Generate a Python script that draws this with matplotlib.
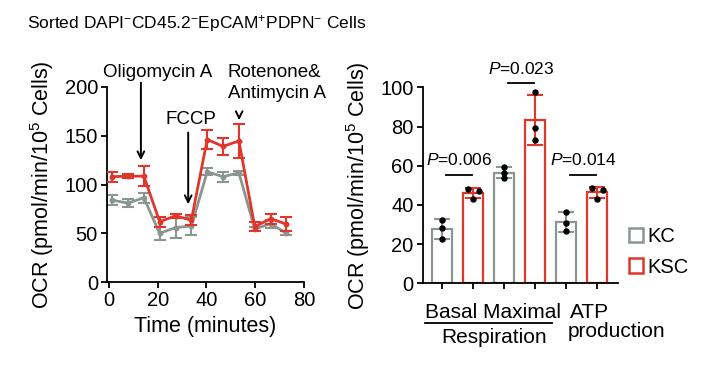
import numpy as np
import matplotlib
matplotlib.use("Agg")
import matplotlib.pyplot as plt
from matplotlib.patches import Patch

plt.rcParams['font.family'] = ['Liberation Sans', 'DejaVu Sans']
plt.rcParams['mathtext.fontset'] = 'custom'
plt.rcParams['mathtext.rm'] = 'Liberation Sans'
plt.rcParams['mathtext.it'] = 'Liberation Sans:italic'
plt.rcParams['mathtext.bf'] = 'Liberation Sans:bold'

# ---------------- data ----------------
time_min = [1.3, 7.8, 14.3, 20.8, 27.3, 33.8, 40.3, 46.8, 53.3, 59.8, 66.3, 72.8]
kc_ocr = [84, 81, 86.5, 50, 56, 57.5, 113, 108, 112, 54.5, 60, 50]
kc_err = [5, 4, 5, 7, 11, 9, 3.5, 5, 2, 2, 4, 2]
ksc_ocr = [108, 108.5, 108.5, 62, 68, 63.5, 146, 139, 144.5, 57, 65, 59.5]
ksc_err = [5, 2, 10, 5, 2, 5, 10, 9, 17, 5, 5, 7]

groups = ["Basal", "Maximal", "ATP production"]
kc_points = [[32.5, 28, 22.5], [59.5, 56.5, 53.5], [36.5, 31, 26.5]]
ksc_points = [[48, 47, 43], [97.5, 79, 73], [48.5, 47.5, 43]]
p_values = ["0.006", "0.023", "0.014"]

RED = "#e0362c"
GRAY = "#8b9591"

fig = plt.figure(figsize=(7.14, 3.72), dpi=100)

def frac(x0, x1, ytop, ybot):
    W, H = 714, 372
    return [x0 / W, 1 - ybot / H, (x1 - x0) / W, (ybot - ytop) / H]

# ---------------- left: time course ----------------
ax1 = fig.add_axes(frac(107, 304, 86.7, 282.3))
ax1.errorbar(time_min, kc_ocr, yerr=kc_err, color=GRAY, lw=2, marker='o', ms=3.2,
             capsize=4, elinewidth=1.5, capthick=1.5, zorder=2)
ax1.errorbar(time_min, ksc_ocr, yerr=ksc_err, color=RED, lw=2, marker='o', ms=3.2,
             capsize=4, elinewidth=1.5, capthick=1.5, zorder=3)
ax1.set_xlim(-0.8, 80)
ax1.set_ylim(0, 200)
ax1.set_xticks([0, 20, 40, 60, 80])
ax1.set_yticks([0, 50, 100, 150, 200])
ax1.set_xlabel("Time (minutes)", fontsize=15.5, labelpad=4)
ax1.set_ylabel(r"OCR (pmol/min/10$^{5}$ Cells)", fontsize=15.5, labelpad=6)

# injection annotations
arr = dict(arrowstyle='->', lw=1.4, color='black', mutation_scale=12)
ax1.annotate('', xy=(13.1, 122), xytext=(13.1, 207), arrowprops=arr, annotation_clip=False)
ax1.annotate('', xy=(32.5, 77), xytext=(32.5, 156), arrowprops=arr, annotation_clip=False)
ax1.annotate('', xy=(53.4, 163), xytext=(53.4, 172), arrowprops=arr, annotation_clip=False)
ax1.text(-2.5, 210, "Oligomycin A", fontsize=13.5, va='baseline', ha='left', clip_on=False)
ax1.text(23, 162, "FCCP", fontsize=13.5, va='baseline', ha='left', clip_on=False)
ax1.text(48.8, 210, "Rotenone&", fontsize=13.5, va='baseline', ha='left', clip_on=False)
ax1.text(48.8, 188.5, "Antimycin A", fontsize=13.5, va='baseline', ha='left', clip_on=False)

# ---------------- right: bar chart ----------------
ax2 = fig.add_axes(frac(422.7, 618, 87.3, 283.3))
jitter_kc = [[0, 0, 0], [0, 0, 0], [0, 0, 0]]
jitter_ksc = [[-0.16, 0.18, 0], [0, 0, 0], [-0.16, 0.18, 0]]
bw = 0.65
for i in range(3):
    for j, (pts, col, jit) in enumerate([(kc_points[i], GRAY, jitter_kc[i]),
                                         (ksc_points[i], RED, jitter_ksc[i])]):
        x = 2 * i + j
        m = np.mean(pts)
        sd = np.std(pts, ddof=1)
        ax2.bar(x, m, width=bw, facecolor='white', edgecolor=col, lw=1.6, zorder=2)
        ax2.errorbar(x, m, yerr=sd, color=col, capsize=5.5, elinewidth=1.5,
                     capthick=1.5, fmt='none', zorder=3)
        ax2.plot(np.array(jit) + x, pts, 'o', color='black', ms=3.6, zorder=4)

sig_y = [55.5, 102, 55.5]
for i in range(3):
    ax2.plot([2 * i + 0.12, 2 * i + 0.95], [sig_y[i], sig_y[i]], color='black', lw=1.3,
             clip_on=False)
    ax2.text(2 * i + 0.55, sig_y[i] + 3.5, r"$\it{P}$=" + p_values[i], fontsize=12.5,
             ha='center', va='bottom', clip_on=False)

ax2.set_xlim(-0.632, 5.668)
ax2.set_ylim(0, 100)
ax2.set_yticks([0, 20, 40, 60, 80, 100])
ax2.set_xticks(range(6))
ax2.set_xticklabels([])
ax2.set_ylabel(r"OCR (pmol/min/10$^{5}$ Cells)", fontsize=15.5, labelpad=6)

# category labels
tr = ax2.get_xaxis_transform()
ax2.text(-0.56, -0.175, groups[0] + " " + groups[1], transform=tr, fontsize=15,
         ha='left', va='baseline')
ax2.plot([-0.56, 3.53], [-0.2, -0.2], transform=tr, color='black', lw=1.3, clip_on=False)
ax2.text(1.66, -0.305, "Respiration", transform=tr, fontsize=15, ha='center', va='baseline')
ax2.text(4.12, -0.175, "ATP", transform=tr, fontsize=15, ha='left', va='baseline')
ax2.text(4.05, -0.275, "production", transform=tr, fontsize=15, ha='left', va='baseline')

for ax in (ax1, ax2):
    for s in ('top', 'right'):
        ax.spines[s].set_visible(False)
    for s in ('left', 'bottom'):
        ax.spines[s].set_linewidth(1.3)
    ax.tick_params(direction='out', length=4.5, width=1.3, labelsize=14.5, pad=2)

handles = [Patch(facecolor='white', edgecolor=GRAY, lw=1.8),
           Patch(facecolor='white', edgecolor=RED, lw=1.8)]
fig.legend(handles, ["KC", "KSC"], loc='center left', bbox_to_anchor=(629 / 714, 1 - 252 / 372),
           frameon=False, fontsize=14.5, handlelength=0.7, handleheight=0.7,
           handletextpad=0.2, labelspacing=0.55, borderpad=0, borderaxespad=0)

fig.text(27 / 714, 1 - 28 / 372,
         r"Sorted DAPI$^{-}$CD45.2$^{-}$EpCAM$^{+}$PDPN$^{-}$ Cells",
         fontsize=12.5, ha='left', va='baseline')

fig.savefig("out.png", dpi=100)
